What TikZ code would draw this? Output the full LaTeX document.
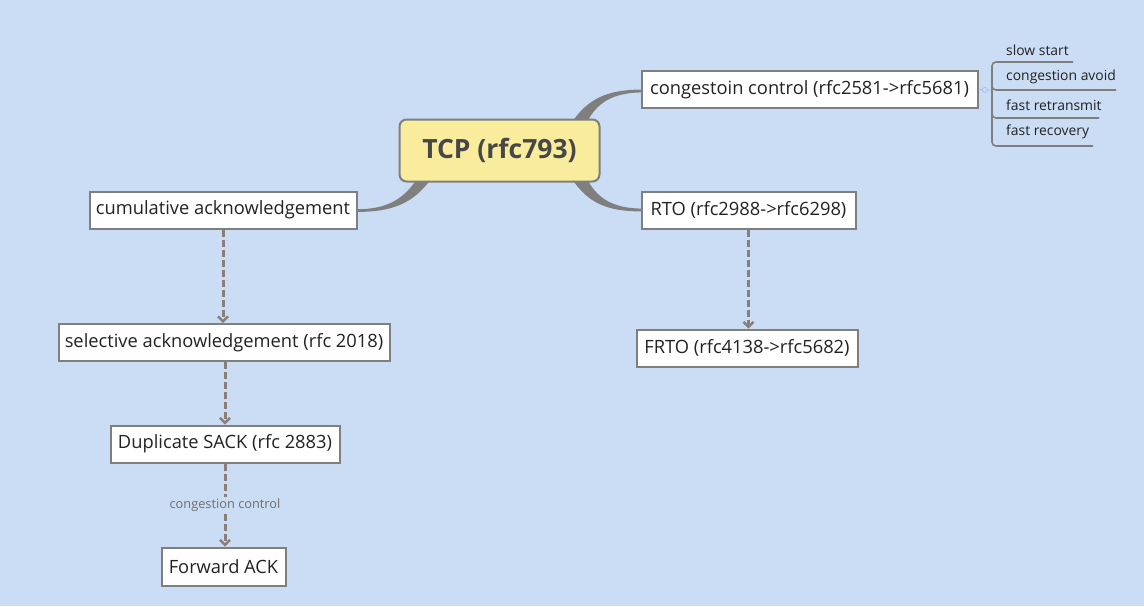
\documentclass[tikz,border=0pt]{standalone}
\usepackage{fontspec}
\setmainfont{Open Sans}
\usetikzlibrary{arrows.meta,calc}
\definecolor{bg}{HTML}{CBDDF5}
\definecolor{bord}{HTML}{7F7F7F}
\definecolor{dashc}{HTML}{8A7E7A}
\definecolor{tcpfill}{HTML}{F9EC9C}
\definecolor{tcptext}{HTML}{474747}
\definecolor{txt}{HTML}{222222}
\definecolor{lbl}{HTML}{6E6E6E}
\definecolor{knob}{HTML}{A9C1EA}
\begin{document}
\begin{tikzpicture}[x=1pt,y=-1pt,
  topic/.style={draw=bord, line width=2pt, fill=white, inner sep=0pt,
    font=\fontsize{18.3}{20}\selectfont, text=txt},
  central/.style={draw=bord, line width=2pt, fill=tcpfill, rounded corners=7pt,
    inner sep=0pt, font=\fontsize{26.5}{30}\selectfont\bfseries, text=tcptext},
  sub/.style={anchor=west, inner sep=0pt, font=\fontsize{13.9}{16}\selectfont, text=txt},
  branch/.style={fill=bord, draw=none},
  dashlink/.style={draw=dashc, line width=3pt, dash pattern=on 7pt off 3pt,
    -{Straight Barb[length=5pt,width=10pt,line width=2.4pt]}},
  linklabel/.style={fill=bg, inner sep=2pt, font=\fontsize{12.8}{14}\selectfont, text=lbl},
  bracket/.style={draw=bord, line width=1.6pt, rounded corners=4pt}
]
\useasboundingbox (0,0) rectangle (1144,606);
\fill[bg] (0,0) rectangle (1144,606);

% tapered branches (drawn under the central box)
\coordinate (b1) at (357,210.5);
\coordinate (b2) at (641,91);
\coordinate (b3) at (641,210);
\fill[branch] ($(b1)+(0,-1.3)$) .. controls (386,209.2) and (403,200) .. (417,179)
  -- (431,179) .. controls (413,204) and (391,212) .. ($(b1)+(0,1.4)$) -- cycle;
\fill[branch] (572,122) .. controls (588,99) and (607,89.6) .. ($(b2)+(0,-1.4)$)
  -- ($(b2)+(0,1.4)$) .. controls (612,93) and (597,103) .. (587,122) -- cycle;
\fill[branch] (572,179) .. controls (588,203) and (607,211.4) .. ($(b3)+(0,1.4)$)
  -- ($(b3)+(0,-1.4)$) .. controls (612,208) and (597,198) .. (587,179) -- cycle;

% nodes
\node[central, minimum width=200pt, minimum height=62pt] (tcp) at (499.5,150.5) {TCP (rfc793)};
\node[topic, minimum width=336pt, minimum height=37pt] (cong) at (809.5,89.5) {congestoin control (rfc2581->rfc5681)};
\node[topic, minimum width=214pt, minimum height=37pt] (rto) at (748.5,210) {RTO (rfc2988->rfc6298)};
\node[topic, minimum width=221pt, minimum height=37pt] (frto) at (747,348) {FRTO (rfc4138->rfc5682)};
\node[topic, minimum width=267pt, minimum height=37pt] (cum) at (223,210) {cumulative acknowledgement};
\node[topic, minimum width=331pt, minimum height=37pt] (sel) at (224,342.5) {selective acknowledgement (rfc 2018)};
\node[topic, minimum width=229pt, minimum height=37pt] (dup) at (225,444) {Duplicate SACK (rfc 2883)};
\node[topic, minimum width=124pt, minimum height=38pt] (fwd) at (223.5,566.5) {Forward ACK};

% subtopics
\node[sub] (s1) at (1006,50) {slow start};
\node[sub] (s2) at (1006,77) {congestion avoid};
\node[sub] (s3) at (1006,105) {fast retransmit};
\node[sub] (s4) at (1006,132) {fast recovery};

\coordinate (br) at (992,90);
\draw[knob, line width=0.8pt] (cong.east) -- (br);
\draw[knob, line width=0.8pt, fill=bg] (985,90) circle (2.6pt);
\draw[bracket] (1073,62) -- (992,62) -- (992,146) -- (1093,146);
\draw[bracket] (992,82) -- (992,90) -- (1116,90);
\draw[bracket] (992,110) -- (992,118) -- (1099,118);

% dashed relations
\draw[dashlink] (cum.south) -- (cum.south |- sel.north);
\draw[dashlink] (sel.south -| dup.north) -- (dup.north);
\draw[dashlink] (dup.south) -- (dup.south |- fwd.north)
  node[linklabel, pos=0.5] (lab) {congestion control};
\draw[dashlink] (rto.south) -- (rto.south |- frto.north);
\end{tikzpicture}
\end{document}
